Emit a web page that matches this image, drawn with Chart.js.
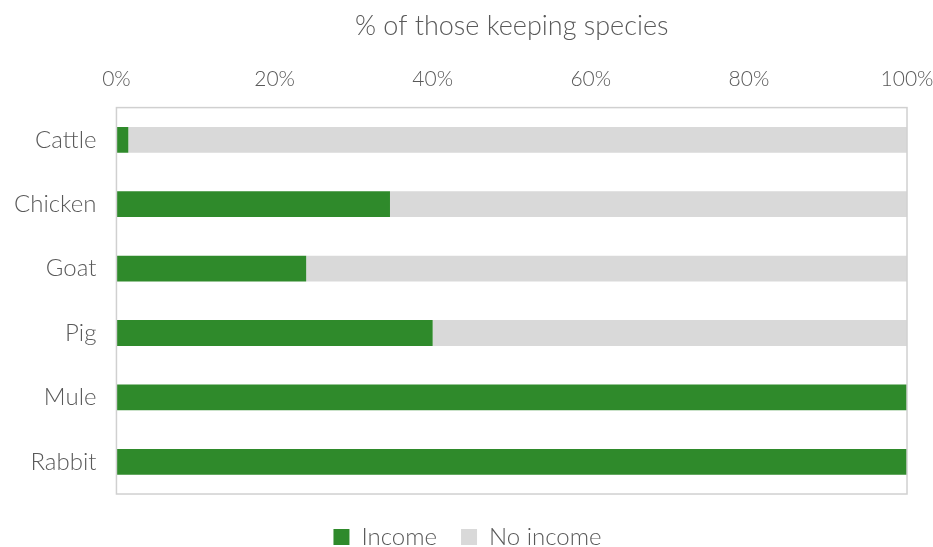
<!DOCTYPE html>
<html>
<head>
<meta charset="utf-8">
<script src="https://cdn.jsdelivr.net/npm/chart.js@4/dist/chart.umd.min.js"></script>
<style>
  html, body { margin: 0; padding: 0; background: #fff; }
  #wrap { width: 933px; height: 547px; }
</style>
</head>
<body>
<div id="wrap"><canvas id="species-chart"></canvas></div>
<script>
const species = ['Cattle', 'Chicken', 'Goat', 'Pig', 'Mule', 'Rabbit']
const incomeShare = [1.5, 34.6, 24.0, 40.0, 100, 100]
const noIncomeShare = [98.5, 65.4, 76.0, 60.0, 0, 0]

const fontFamily = '"Helvetica Neue", Lato, "Open Sans", sans-serif'
const textColor = '#595959'

// plot frame (Excel style box around the chart area)
const frame = {
  id: 'frame',
  afterDatasetsDraw(chart) {
    const { ctx, chartArea } = chart
    ctx.save()
    ctx.strokeStyle = '#d0d0d0'
    ctx.lineWidth = 1.5
    ctx.strokeRect(chartArea.left, chartArea.top, chartArea.right - chartArea.left, chartArea.bottom - chartArea.top)
    ctx.restore()
  }
}

const data = {
  labels: species,
  datasets: [
    {
      label: 'Income',
      data: incomeShare,
      backgroundColor: '#2f8a2b',
      barPercentage: 0.4,
      categoryPercentage: 1
    },
    {
      label: 'No income',
      data: noIncomeShare,
      backgroundColor: '#d9d9d9',
      barPercentage: 0.4,
      categoryPercentage: 1
    }
  ]
}

const config = {
  type: 'bar',
  data,
  plugins: [frame],
  options: {
    indexAxis: 'y',
    responsive: true,
    maintainAspectRatio: false,
    animation: false,
    layout: {
      padding: { left: 2, right: 0, top: 2, bottom: -12 }
    },
    plugins: {
      legend: {
        position: 'bottom',
        labels: {
          color: textColor,
          font: { family: fontFamily, size: 24, weight: 300 },
          boxWidth: 16,
          boxHeight: 16,
          padding: 24
        }
      },
      tooltip: { enabled: false }
    },
    scales: {
      x: {
        position: 'top',
        stacked: true,
        min: 0,
        max: 100,
        // let the 100% label hang a little past the frame, like the original
        afterFit: scale => { scale.paddingRight = 26 },
        title: {
          display: true,
          text: '% of those keeping species',
          color: textColor,
          font: { family: fontFamily, size: 27, weight: 300 },
          padding: { top: 8, bottom: 16 }
        },
        ticks: {
          stepSize: 20,
          color: textColor,
          font: { family: fontFamily, size: 21, weight: 300 },
          padding: 8,
          callback: v => v + '%'
        },
        grid: { display: false },
        border: { display: false }
      },
      // empty bottom axis, only used as a gap between the frame and the legend
      gap: {
        axis: 'x',
        position: 'bottom',
        ticks: { display: false },
        grid: { display: false },
        border: { display: false },
        afterFit: scale => { scale.height = 7 }
      },
      y: {
        stacked: true,
        ticks: {
          color: textColor,
          font: { family: fontFamily, size: 24, weight: 300 },
          padding: 12
        },
        grid: { display: false },
        border: { display: false }
      }
    }
  }
}

new Chart(document.getElementById('species-chart'), config)
</script>
</body>
</html>
